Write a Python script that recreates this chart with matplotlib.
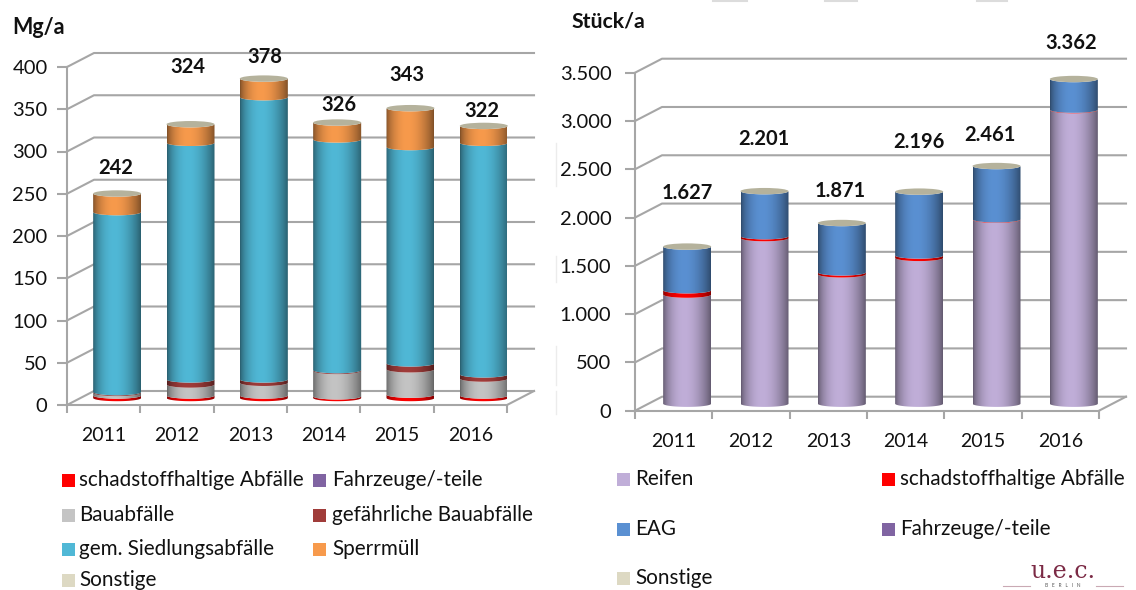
"""Two stacked 3D-look cylinder charts: Mg/a and Stueck/a per year."""
import numpy as np
import matplotlib
matplotlib.use("Agg")
import matplotlib.pyplot as plt
from matplotlib.patches import Polygon, Rectangle, Ellipse

plt.rcParams['font.family'] = ['Lato', 'DejaVu Sans']

# Data
years = ["2011", "2012", "2013", "2014", "2015", "2016"]

# left chart, Mg/a
mg_schadstoff = [3, 3, 3, 2, 4, 3]
mg_fahrzeuge = [0, 0, 0, 0, 0, 0]
mg_bau = [3, 13, 15, 30, 30, 20]
mg_gef_bau = [1, 6, 4, 1, 7, 5]
mg_siedlung = [213, 280, 334, 273, 256, 274]
mg_sperr = [22, 22, 22, 20, 46, 20]
mg_labels = ["242", "324", "378", "326", "343", "322"]
mg_ticks = [0, 50, 100, 150, 200, 250, 300, 350, 400]
mg_ticklabels = ["0", "50", "100", "150", "200", "250", "300", "350", "400"]

# right chart, Stueck/a
st_reifen = [1130, 1715, 1340, 1510, 1905, 3040]
st_schadstoff = [45, 20, 20, 25, 5, 5]
st_eag = [452, 466, 511, 661, 551, 317]
st_labels = ["1.627", "2.201", "1.871", "2.196", "2.461", "3.362"]
st_ticks = [0, 500, 1000, 1500, 2000, 2500, 3000, 3500]
st_ticklabels = ["0", "500", "1.000", "1.500", "2.000", "2.500", "3.000", "3.500"]

# Styles
RED = "#ff0000"
PURPLE = "#8064a2"
GRAY = "#c4c4c4"
DARKRED = "#a03c3a"
TEAL = "#50b8d6"
ORANGE = "#f79a4c"
BEIGE = "#ddd9c3"
LILAC = "#c0aed8"
BLUE = "#5a90d2"
CAP = "#b5b29c"
GRID = "#a6a6a6"
INK = "#111111"
W, H = 1136, 590


def shaded(color):
    """Horizontal strip that looks like light falling on a cylinder."""
    rgb = np.array(matplotlib.colors.to_rgb(color))
    pos = np.linspace(0, 1, 60)
    light = 0.52 + 0.48 * np.clip(np.sin(np.pi * pos**0.85), 0, 1) ** 0.8
    return np.clip(light[None, :, None] * rgb[None, None, :], 0, 1)


def draw_chart(box, stacks, colors, ticks, ticklabels, labels, label_x, label_y, tick_pad, year_pad):
    left, right, y_zero, y_top = box
    ax = fig.add_axes([left / W, 1 - y_zero / H, (right - left) / W, (y_zero - y_top) / H])
    ymax = ticks[-1]
    ax.set_xlim(0, 6)
    ax.set_ylim(0, ymax)
    ax.patch.set_alpha(0)

    # depth of the fake 3D box, in data units
    px_x = 6 / (right - left)
    px_y = ymax / (y_zero - y_top)
    dx, dy = 27 * px_x, 14 * px_y

    for v in ticks:
        ax.plot([0, dx, 6 + dx], [v, v + dy, v + dy], color=GRID, lw=1.5,
                clip_on=False, zorder=1)
    ax.plot([6, 6 + dx], [0, dy], color=GRID, lw=1.5, clip_on=False, zorder=1)

    half_w = 24 * px_x
    ry = 3.2 * px_y
    t = np.linspace(np.pi, 0, 40)
    for i in range(len(years)):
        cx = i + 0.5 + dx / 2
        base = dy / 2
        xs = cx + half_w * np.cos(t)
        arc = ry * np.sin(t)
        for values, color in zip(stacks, colors):
            top = base + values[i]
            poly = Polygon(np.r_[np.c_[xs, base - arc], np.c_[xs[::-1], top - arc[::-1]]],
                           closed=True, transform=ax.transData)
            im = ax.imshow(shaded(color), extent=[cx - half_w, cx + half_w, 0, ymax + 2 * dy],
                           aspect="auto", zorder=3, interpolation="bilinear")
            im.set_clip_path(poly)
            base = top
        ax.add_patch(Ellipse((cx, base), 2 * half_w, 2 * ry, color=CAP, zorder=4,
                             clip_on=False, lw=0))
        ax.text((label_x[i] - left) * px_x, label_y[i], labels[i], ha="center",
                va="center", fontsize=14.5, fontweight="bold", color=INK, zorder=5)
    ax.set_xlim(0, 6)
    ax.set_ylim(0, ymax)

    for name in ["top", "right"]:
        ax.spines[name].set_visible(False)
    for name in ["left", "bottom"]:
        ax.spines[name].set_color(GRID)
        ax.spines[name].set_linewidth(1.5)
    ax.set_yticks(ticks)
    ax.set_yticklabels(ticklabels, fontsize=14.5, color=INK)
    ax.set_xticks(range(7))
    ax.set_xticklabels([])
    ax.set_xticks(np.arange(6) + 0.5, minor=True)
    ax.set_xticklabels(years, minor=True, fontsize=14, color=INK)
    ax.tick_params(axis="y", color=GRID, width=1.5, length=7, pad=tick_pad)
    ax.tick_params(axis="x", which="major", color=GRID, width=1.5, length=6)
    ax.tick_params(axis="x", which="minor", length=0, pad=year_pad)
    return ax


fig = plt.figure(figsize=(W / 100, H / 100), dpi=100)

# data labels float freely above the bars: pixel column and height on the value axis
mg_label_x = [116, 188, 265, 339, 407, 482]
mg_label_y = [281, 400, 412, 355, 391, 348]
st_label_x = [687, 764, 840, 919, 990, 1071]
st_label_y = [2255, 2810, 2280, 2780, 2850, 3810]

draw_chart((67, 507, 405, 67),
           [mg_schadstoff, mg_fahrzeuge, mg_bau, mg_gef_bau, mg_siedlung, mg_sperr],
           [RED, PURPLE, GRAY, DARKRED, TEAL, ORANGE],
           mg_ticks, mg_ticklabels, mg_labels, mg_label_x, mg_label_y, 7, 15.5)
draw_chart((635, 1099, 410.7, 72.7),
           [st_reifen, st_schadstoff, st_eag],
           [LILAC, RED, BLUE],
           st_ticks, st_ticklabels, st_labels, st_label_x, st_label_y, 10, 16)

# Overlay in pixel coordinates for headings, legends and logo
over = fig.add_axes([0, 0, 1, 1])
over.set_xlim(0, W)
over.set_ylim(H, 0)
over.axis("off")
over.patch.set_alpha(0)

over.text(12, 27, "Mg/a", fontsize=15.5, fontweight="bold", va="center", color=INK)
over.text(572, 22, "Stück/a", fontsize=15.3, fontweight="bold", va="center", color=INK)

legend_items = [
    (62, 79, 480.5, RED, "schadstoffhaltige Abfälle"),
    (313, 332, 480.5, PURPLE, "Fahrzeuge/-teile"),
    (62, 79, 515, GRAY, "Bauabfälle"),
    (313, 332, 515, DARKRED, "gefährliche Bauabfälle"),
    (62, 79, 549, TEAL, "gem. Siedlungsabfälle"),
    (313, 332, 549, ORANGE, "Sperrmüll"),
    (62, 79, 580.5, BEIGE, "Sonstige"),
    (617, 635, 479, LILAC, "Reifen"),
    (882, 900, 479, RED, "schadstoffhaltige Abfälle"),
    (617, 635, 529, BLUE, "EAG"),
    (882, 900, 529, PURPLE, "Fahrzeuge/-teile"),
    (617, 635, 578, BEIGE, "Sonstige"),
]
for marker_x, text_x, y, color, name in legend_items:
    over.add_patch(Rectangle((marker_x, y - 6.5), 13, 13, color=color, lw=0))
    over.text(text_x, y, name, fontsize=14.9, va="center", color=INK)

# Logo
over.text(1063, 571, "u.e.c.", fontsize=17, color="#7b2a45", ha="center", va="center",
          family="DejaVu Serif")
over.text(1063, 585.5, "B   E   R   L   I   N", fontsize=3.5, color="#555555", ha="center", va="center")
over.plot([1003, 1030], [585.5, 585.5], color="#c9a9b4", lw=0.8)
over.plot([1096, 1123], [585.5, 585.5], color="#c9a9b4", lw=0.8)

# faint leftovers of the source slide
for x0, x1 in [(713, 747), (825, 857), (977, 1007)]:
    over.plot([x0, x1], [0.5, 0.5], color="#dcdcdc", lw=1.5)
for y0, y1 in [(143, 186), (256, 282), (346, 385), (391, 414)]:
    over.plot([556, 556], [y0, y1], color="#ececec", lw=1)

fig.savefig("out.png", dpi=100)
